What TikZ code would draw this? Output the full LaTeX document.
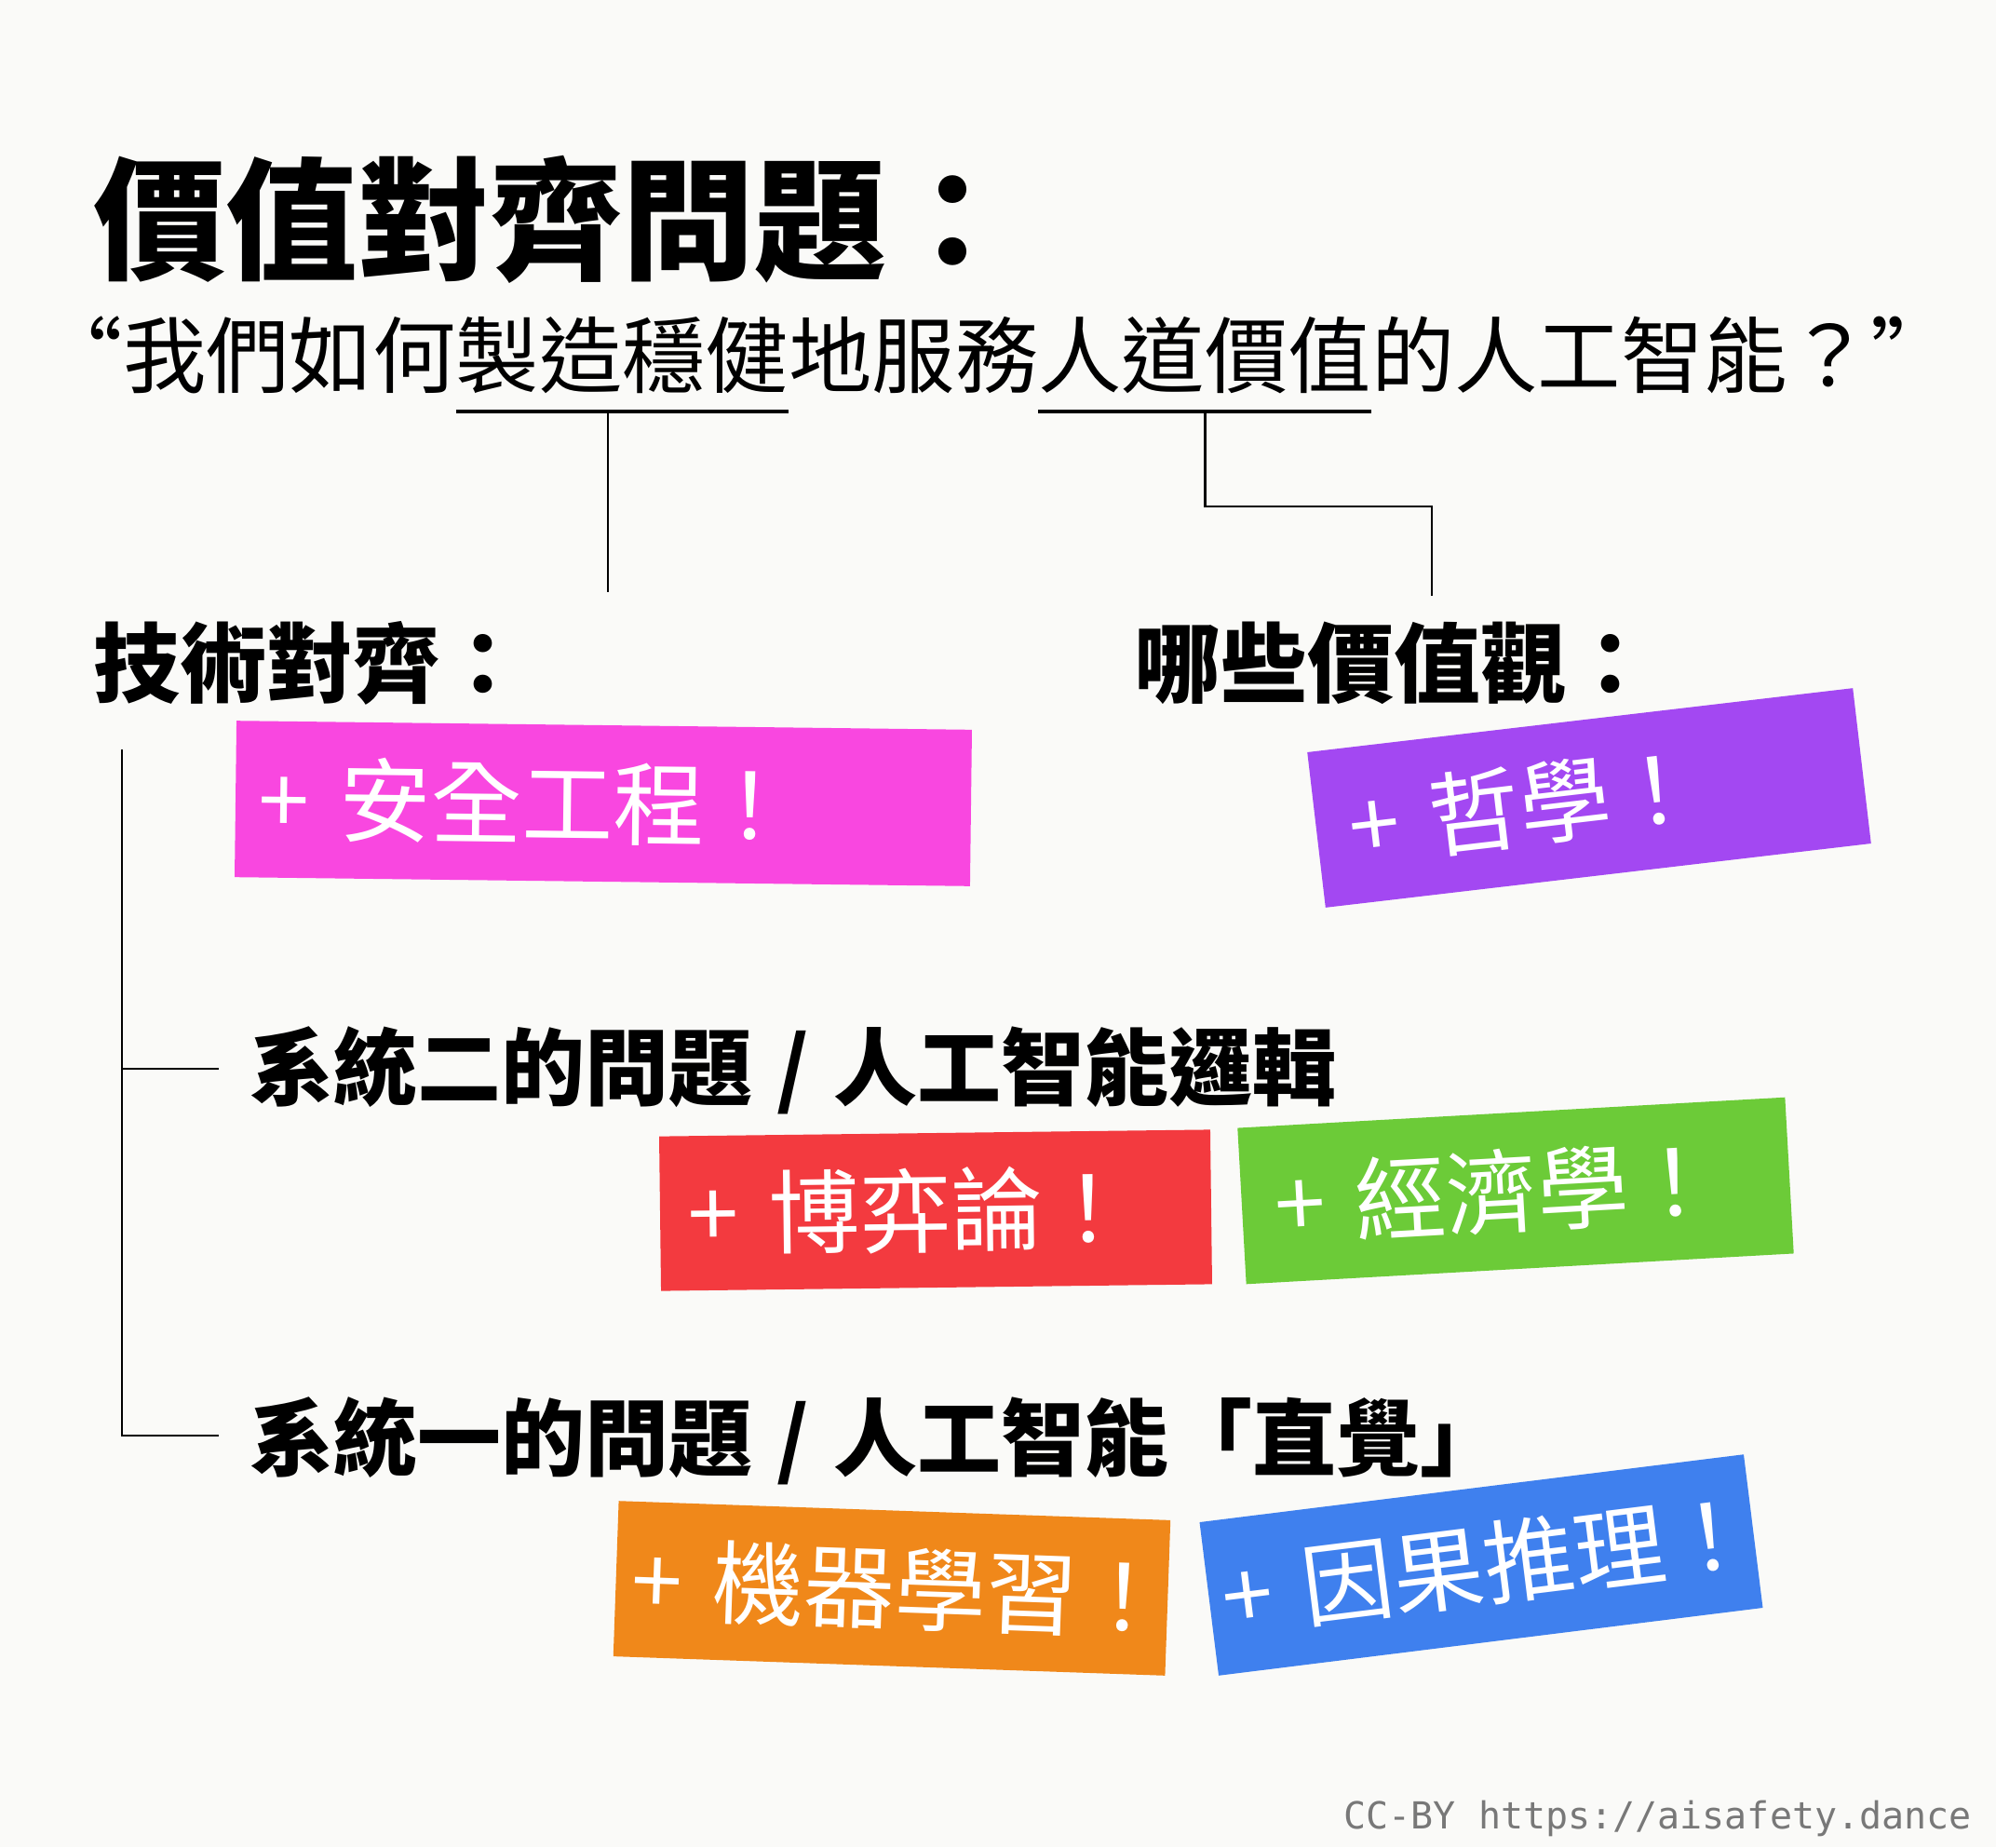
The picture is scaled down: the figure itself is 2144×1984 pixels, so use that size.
\documentclass[tikz,border=0pt]{standalone}
\usepackage{fontspec}
\newfontfamily\cjk{Noto Sans CJK TC}
\newfontfamily\creditfont{DejaVu Sans Mono}
\definecolor{bgc}{RGB}{250,250,248}
\definecolor{cpink}{RGB}{249,71,224}
\definecolor{cpurple}{RGB}{163,72,242}
\definecolor{cred}{RGB}{243,58,63}
\definecolor{cgreen}{RGB}{108,203,56}
\definecolor{corange}{RGB}{240,136,26}
\definecolor{cblue}{RGB}{63,128,238}
\definecolor{cgray}{RGB}{120,120,120}
\tikzset{
  txt/.style={inner sep=0pt, outer sep=0pt, anchor=base west},
  titlefont/.style={txt, font=\cjk\bfseries\fontsize{142pt}{150pt}\selectfont},
  subfont/.style={txt, font=\cjk\fontsize{89.4pt}{95pt}\selectfont},
  headfont/.style={txt, font=\cjk\bfseries\fontsize{93pt}{100pt}\selectfont},
  head2font/.style={txt, font=\cjk\bfseries\fontsize{90pt}{100pt}\selectfont},
  uline/.style={line width=4pt},
  conn/.style={line width=2.6pt},
  tagbox/.style={anchor=center, inner ysep=0pt, outer sep=0pt, align=left, text=white,
     font=\cjk\fontsize{98pt}{105pt}\selectfont},
}
\begin{document}
\begin{tikzpicture}[x=1pt,y=-1pt]
\useasboundingbox (0,0) rectangle (2144,1984);
\fill[bgc] (0,0) rectangle (2144,1984);

% title
\node[titlefont] (title) at (100,289) {價值對齊問題：};

% subtitle
\node[subfont] (s1) at (132,415) {我們如何};
\node[subfont] (s2) at (s1.base east) {製造穩健};
\node[subfont] (s3) at (s2.base east) {地服務};
\node[subfont] (s4) at (s3.base east) {人道價值};
\node[subfont] (s5) at (s4.base east) {的人工智能？};
\node[subfont, anchor=base east] (q1) at (s1.base west) {“};
\node[subfont] (q2) at (s5.base east) {”};

% underlines
\draw[uline] ([yshift=-27pt]s2.base west) -- ([yshift=-27pt]s2.base east);
\draw[uline] ([yshift=-27pt]s4.base west) -- ([yshift=-27pt]s4.base east);
\coordinate (u1) at ([yshift=-27pt]s2.base);
\coordinate (u2) at ([yshift=-27pt]s4.base);
\coordinate (c1end) at (653,636);
\coordinate (c2end) at (1538,640);
\draw[conn] (c1end |- u1) -- (c1end);
\draw[conn] (u2) -- ++(0,102) -| (c2end);

% section headings
\node[headfont] (tech) at (100,747) {技術對齊：};
\node[headfont] (vals) at (1218,747) {哪些價值觀：};
\node[head2font] (h2) at (268,1180) {系統二的問題\hspace{6pt} / \hspace{6pt}人工智能邏輯};
\node[head2font] (h1) at (268,1578) {系統一的問題\hspace{6pt} / \hspace{6pt}人工智能「直覺」};

% tree
\coordinate (ttop) at (131,805);
\coordinate (h2t) at ([xshift=-33pt,yshift=32pt]h2.base west);
\coordinate (h1t) at ([xshift=-33pt,yshift=36pt]h1.base west);
\draw[conn] (ttop) -- (ttop |- h1t) -- (h1t);
\draw[conn] (ttop |- h2t) -- (h2t);

% tag boxes
\node[tagbox, fill=cpink, rotate=-0.7, minimum height=168pt, inner xsep=25pt, text width=740pt] (pink) at (648,863) {\mbox{+ 安全工程！}};
\node[tagbox, fill=cpurple, rotate=6.7, minimum height=168pt, inner xsep=35pt, text width=520pt] (purple) at (1707,857) {\mbox{+ 哲學！}};
\node[tagbox, fill=cred, rotate=0.7, minimum height=166pt, inner xsep=30pt, text width=532pt] (red) at (1005,1300) {\mbox{+ 博弈論！}};
\node[tagbox, fill=cgreen, rotate=3.2, minimum height=168pt, inner xsep=35pt, text width=519pt] (green) at (1628,1279) {\mbox{+ 經濟學！}};
\node[tagbox, fill=corange, rotate=-2.0, minimum height=167pt, inner xsep=17pt, text width=559pt] (orange) at (958,1706) {\mbox{+ 機器學習！}};
\node[tagbox, fill=cblue, rotate=7.1, minimum height=166pt, inner xsep=14pt, text width=561pt] (blue) at (1591,1681) {\mbox{+ 因果推理！}};

% credit
\node[inner sep=0pt, anchor=base east, text=cgray, font=\creditfont\fontsize{40pt}{44pt}\selectfont] (credit) at (2118,1964) {CC-BY https://aisafety.dance};
\end{tikzpicture}
\end{document}
